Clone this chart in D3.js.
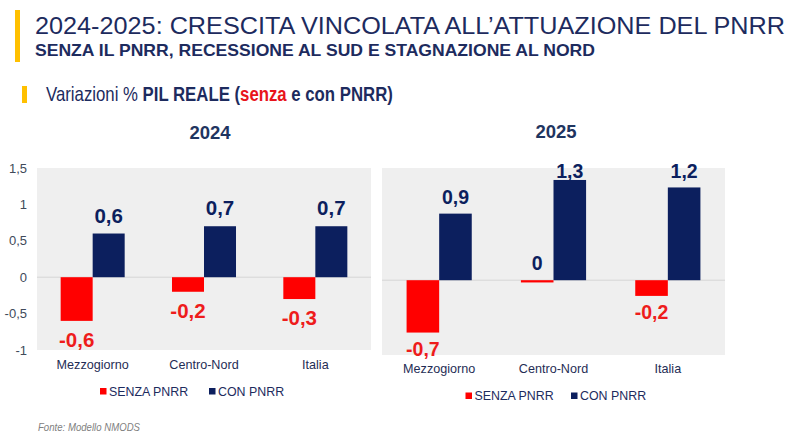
<!DOCTYPE html>
<html><head><meta charset="utf-8">
<script src="https://cdn.jsdelivr.net/npm/d3@7"></script>
<style>body{margin:0;background:#fff}svg{display:block}</style>
</head><body>
<svg id="c" width="795" height="448"></svg>
<script>
// ---- data ----
const categories = ["Mezzogiorno", "Centro-Nord", "Italia"];
const seriesNames = ["SENZA PNRR", "CON PNRR"];
const years = ["2024", "2025"];
const senza2024 = [-0.6, -0.2, -0.3];
const con2024 = [0.6, 0.7, 0.7];
const senza2025 = [-0.7, -0.03, -0.21];
const con2025 = [0.89, 1.34, 1.24];
const labelsSenza2024 = ["-0,6", "-0,2", "-0,3"];
const labelsCon2024 = ["0,6", "0,7", "0,7"];
const labelsSenza2025 = ["-0,7", "0", "-0,2"];
const labelsCon2025 = ["0,9", "1,3", "1,2"];
const yTicks = [-1, -0.5, 0, 0.5, 1, 1.5];
const yTickLabels = ["-1", "-0,5", "0", "0,5", "1", "1,5"];

// ---- styles ----
const RED = "#ff0000", NAVY = "#0c1f5e", TXT = "#1d2b5e";
const FONT = "'Liberation Sans', Arial, sans-serif";
const svg = d3.select("#c");

// ---- header ----
svg.append("rect").attr("x", 15).attr("y", 10).attr("width", 5).attr("height", 52).attr("fill", "#ffc000");
svg.append("text").attr("x", 35).attr("y", 34).attr("font-family", FONT).attr("font-size", 24.7)
  .attr("fill", TXT).attr("textLength", 750).attr("lengthAdjust", "spacingAndGlyphs")
  .text("2024-2025: CRESCITA VINCOLATA ALL\u2019ATTUAZIONE DEL PNRR");
svg.append("text").attr("x", 35).attr("y", 56).attr("font-family", FONT).attr("font-size", 16.5)
  .attr("font-weight", "bold").attr("fill", TXT).attr("textLength", 560).attr("lengthAdjust", "spacingAndGlyphs")
  .text("SENZA IL PNRR, RECESSIONE AL SUD E STAGNAZIONE AL NORD");
svg.append("rect").attr("x", 22).attr("y", 86).attr("width", 5).attr("height", 17).attr("fill", "#ffc000");

// sub-heading: one text with tspans, compressed horizontally by a group transform
const subG = svg.append("g");
const sub = subG.append("text").attr("x", 0).attr("y", 0).attr("font-family", FONT)
  .attr("font-size", 20.5).attr("fill", TXT);
sub.append("tspan").text("Variazioni % ");
sub.append("tspan").attr("font-weight", "bold").text("PIL REALE (");
sub.append("tspan").attr("font-weight", "bold").attr("fill", "#e8141b").text("senza");
sub.append("tspan").attr("font-weight", "bold").text(" e con PNRR)");
const natW = sub.node().getComputedTextLength();
subG.attr("transform", `translate(46,101) scale(${347 / natW},1)`);

// ---- panels ----
const panels = [
  { year: years[0], senza: senza2024, con: con2024, lS: labelsSenza2024, lC: labelsCon2024,
    x0: 37, x1: 371, y0: 168, y1: 350, pad: 0.425, fs: 20.5, posOff: 11, negOff: 26,
    titleX: 210, titleY: 139, catPad: 10, legY: 388, legX: [100, 209], axis: true },
  { year: years[1], senza: senza2025, con: con2025, lS: labelsSenza2025, lC: labelsCon2025,
    x0: 382, x1: 725, y0: 168, y1: 355, pad: 0.43, fs: 19.5, posOff: 10, negOff: 23,
    titleX: 556, titleY: 137.5, catPad: 9.5, legY: 392.5, legX: [465.5, 571], axis: false }
];

panels.forEach(p => {
  const g = svg.append("g");
  const y = d3.scaleLinear().domain([-1, 1.5]).range([p.y1, p.y0]);
  const x = d3.scaleBand().domain(categories).range([p.x0, p.x1]).paddingInner(p.pad).paddingOuter(p.pad / 2);
  const xs = d3.scaleBand().domain(seriesNames).range([0, x.bandwidth()]);

  g.append("rect").attr("x", p.x0).attr("y", p.y0).attr("width", p.x1 - p.x0).attr("height", p.y1 - p.y0).attr("fill", "#efefef");
  g.append("line").attr("x1", p.x0).attr("x2", p.x1).attr("y1", y(0)).attr("y2", y(0)).attr("stroke", "#d6d6d6").attr("stroke-width", 1);

  const items = [];
  categories.forEach((c, i) => {
    items.push({ c, ser: seriesNames[0], v: p.senza[i], lab: p.lS[i], col: RED });
    items.push({ c, ser: seriesNames[1], v: p.con[i], lab: p.lC[i], col: NAVY });
  });

  g.selectAll(".bar").data(items).enter().append("rect")
    .attr("x", d => x(d.c) + xs(d.ser)).attr("width", xs.bandwidth())
    .attr("y", d => y(Math.max(0, d.v))).attr("height", d => Math.abs(y(d.v) - y(0)))
    .attr("fill", d => d.col);

  g.selectAll(".lab").data(items).enter().append("text")
    .attr("x", d => x(d.c) + xs(d.ser) + xs.bandwidth() / 2)
    .attr("y", d => {
      const neg = d.lab.startsWith("-");
      if (neg) return Math.min(y(d.v) + p.negOff, p.y1 + 1);
      return Math.max(y(Math.max(0, d.v)) - p.posOff, p.y0 + 10);
    })
    .attr("text-anchor", "middle").attr("font-family", FONT).attr("font-weight", "bold")
    .attr("font-size", p.fs).attr("fill", d => d.lab.startsWith("-") ? "#ee1c1c" : NAVY)
    .text(d => d.lab);

  // category axis
  const ax = g.append("g").attr("transform", `translate(0,${p.y1})`)
    .call(d3.axisBottom(x).tickSize(0).tickPadding(p.catPad));
  ax.select(".domain").remove();
  ax.selectAll("text").attr("font-family", FONT).attr("font-size", 12.6).attr("fill", "#1f2d55");

  if (p.axis) {
    const ay = g.append("g").attr("transform", `translate(${p.x0},0)`)
      .call(d3.axisLeft(y).tickValues(yTicks).tickSize(0).tickPadding(10)
        .tickFormat((d, i) => yTickLabels[i]));
    ay.select(".domain").remove();
    ay.selectAll("text").attr("font-family", FONT).attr("font-size", 13).attr("fill", "#404a5a");
  }

  // year title
  g.append("text").attr("x", p.titleX).attr("y", p.titleY).attr("text-anchor", "middle")
    .attr("font-family", FONT).attr("font-weight", "bold").attr("font-size", 18.5).attr("fill", "#1f3560")
    .text(p.year);

  // legend
  seriesNames.forEach((s, i) => {
    g.append("rect").attr("x", p.legX[i]).attr("y", p.legY).attr("width", 6.5).attr("height", 6.5)
      .attr("fill", i === 0 ? RED : NAVY);
    g.append("text").attr("x", p.legX[i] + 9).attr("y", p.legY + 7.5)
      .attr("font-family", FONT).attr("font-size", 12.4).attr("fill", TXT).text(s);
  });
});

// ---- footer ----
svg.append("text").attr("x", 38).attr("y", 431).attr("font-family", FONT).attr("font-style", "italic")
  .attr("font-size", 11).attr("fill", "#808080").attr("textLength", 102).attr("lengthAdjust", "spacingAndGlyphs")
  .text("Fonte: Modello NMODS");
</script>
</body></html>
